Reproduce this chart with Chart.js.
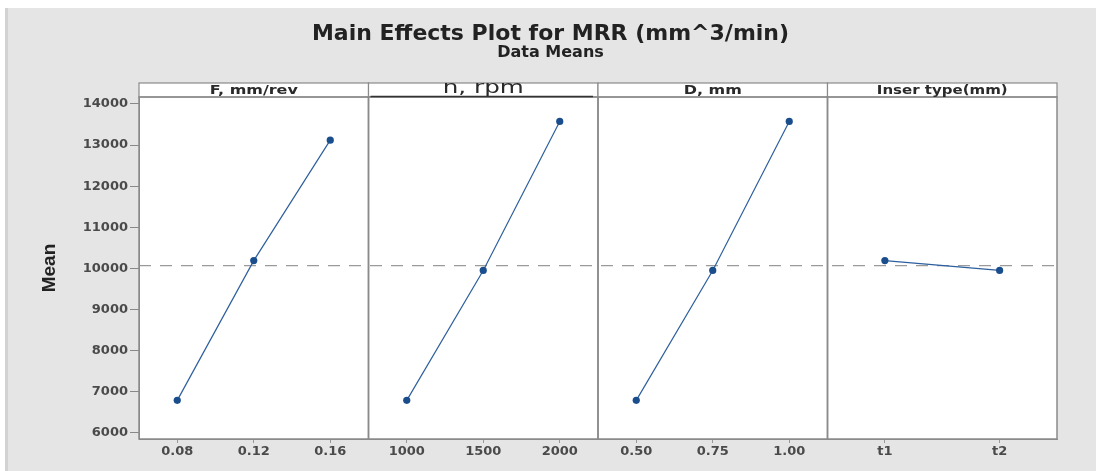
<!DOCTYPE html>
<html>
<head>
<meta charset="utf-8">
<script src="https://cdn.jsdelivr.net/npm/chart.js@4.4.1/dist/chart.umd.min.js"></script>
<style>
html,body{margin:0;padding:0;background:#fff;}
#wrap{width:1096px;height:471px;position:relative;}
</style>
</head>
<body>
<div id="wrap"><canvas id="c"></canvas></div>
<script>
// ---- data ----
const factorNames = ['F, mm/rev', 'n, rpm', 'D, mm', 'Inser type(mm)'];
const levelsF = ['0.08', '0.12', '0.16'];
const levelsN = ['1000', '1500', '2000'];
const levelsD = ['0.50', '0.75', '1.00'];
const levelsT = ['t1', 't2'];
const meansF = [6790, 10190, 13120];
const meansN = [6790, 9950, 13575];
const meansD = [6790, 9950, 13575];
const meansT = [10190, 9950];
const grandMean = 10070;
const yTickValues = [6000, 7000, 8000, 9000, 10000, 11000, 12000, 13000, 14000];

const panelLevels = [levelsF, levelsN, levelsD, levelsT];
const panelMeans = [meansF, meansN, meansD, meansT];
const headerFonts = ['bold 12px "DejaVu Sans"', '17px "DejaVu Sans"', 'bold 12px "DejaVu Sans"', 'bold 12px "DejaVu Sans"'];
const headerStretch = [1.33, 1.45, 1.33, 1.25];

Chart.defaults.font.family = '"DejaVu Sans", sans-serif';
Chart.defaults.color = '#333';

const LINE = '#2d5f9e';
const DOT = '#1a4d8c';

const datasets = panelMeans.map((m, i) => ({
  label: factorNames[i],
  data: m,
  xAxisID: 'x' + i,
  yAxisID: 'y',
  borderColor: LINE,
  borderWidth: 1.2,
  pointRadius: 3.6,
  pointBackgroundColor: DOT,
  pointBorderColor: DOT,
  pointBorderWidth: 0,
  tension: 0,
  clip: false
}));

const xScales = {};
panelLevels.forEach((lv, i) => {
  xScales['x' + i] = {
    type: 'category',
    position: 'bottom',
    stack: 'panels',
    stackWeight: 1,
    labels: lv,
    offset: true,
    grid: { display: true, offset: false, drawOnChartArea: false, drawTicks: true, tickLength: 4, tickColor: '#999', color: '#999' },
    border: { display: true, color: '#8a8a8a', width: 1 },
    ticks: { font: { size: 13, weight: 'bold' }, color: '#4a4a4a', padding: 1, maxRotation: 0, autoSkip: false },
    afterFit: s => { s.height = 32; }
  };
});

const framePlugin = {
  id: 'frame',
  beforeDraw(chart) {
    const ctx = chart.ctx, a = chart.chartArea;
    ctx.save();
    ctx.fillStyle = '#ffffff';
    ctx.fillRect(0, 0, chart.width, chart.height);
    ctx.fillStyle = '#e5e5e5';
    ctx.fillRect(5, 8, chart.width - 5, chart.height - 8);
    ctx.fillStyle = '#d2d2d2';
    ctx.fillRect(5, 8, 3, chart.height - 8);
    ctx.fillStyle = '#ffffff';
    ctx.fillRect(a.left, a.top, a.right - a.left, a.bottom - a.top);
    ctx.restore();
  },
  beforeDatasetsDraw(chart) {
    const ctx = chart.ctx, a = chart.chartArea;
    const y = chart.scales.y.getPixelForValue(grandMean);
    ctx.save();
    ctx.strokeStyle = '#9a9a9a';
    ctx.lineWidth = 1.2;
    ctx.setLineDash([12, 9]);
    ctx.beginPath();
    ctx.moveTo(a.left, y);
    ctx.lineTo(a.right, y);
    ctx.stroke();
    ctx.restore();
  },
  afterDraw(chart) {
    const ctx = chart.ctx, a = chart.chartArea;
    const hTop = a.top - 14;
    ctx.save();
    panelLevels.forEach((lv, i) => {
      const s = chart.scales['x' + i];
      // header strip
      ctx.fillStyle = '#ffffff';
      ctx.fillRect(s.left, hTop, s.right - s.left, a.top - hTop);
      ctx.strokeStyle = '#8a8a8a';
      ctx.lineWidth = 1.2;
      ctx.strokeRect(s.left, hTop, s.right - s.left, a.top - hTop);
      // panel frame
      ctx.lineWidth = 1.5;
      ctx.strokeRect(s.left, a.top, s.right - s.left, a.bottom - a.top);
      // header text (horizontally stretched like the reference)
      const cx = (s.left + s.right) / 2;
      const cy = (hTop + a.top) / 2 + (i === 1 ? -1.5 : 0.5);
      ctx.save();
      ctx.translate(cx, cy);
      ctx.scale(headerStretch[i], 1);
      ctx.fillStyle = '#2a2a2a';
      ctx.font = headerFonts[i];
      ctx.textAlign = 'center';
      ctx.textBaseline = 'middle';
      ctx.fillText(factorNames[i], 0, 0);
      ctx.restore();
      if (i === 1) {
        ctx.strokeStyle = '#333';
        ctx.lineWidth = 1.6;
        ctx.beginPath();
        ctx.moveTo(s.left + 2, a.top - 0.5);
        ctx.lineTo(s.right - 5, a.top - 0.5);
        ctx.stroke();
      }
    });
    ctx.restore();
  }
};

new Chart(document.getElementById('c'), {
  type: 'line',
  data: { datasets },
  options: {
    responsive: true,
    maintainAspectRatio: false,
    animation: false,
    events: [],
    layout: { padding: { left: 5, right: 0, top: 0, bottom: 0 } },
    plugins: {
      legend: { display: false },
      tooltip: { enabled: false },
      title: {
        display: true,
        text: 'Main Effects Plot for MRR (mm^3/min)',
        color: '#222',
        font: { size: 22, weight: 'bold', lineHeight: 1.0 },
        padding: { top: 23, bottom: 0 }
      },
      subtitle: {
        display: true,
        text: 'Data Means',
        color: '#222',
        font: { size: 16, weight: 'bold', lineHeight: 1.0 },
        padding: { top: 0, bottom: 36 }
      }
    },
    scales: Object.assign({}, xScales, {
      y: {
        type: 'linear',
        position: 'left',
        min: 5850,
        max: 14170,
        afterBuildTicks: s => { s.ticks = yTickValues.map(v => ({ value: v })); },
        grid: { drawOnChartArea: false, drawTicks: true, tickLength: 9, tickColor: '#888' },
        border: { display: true, color: '#8a8a8a' },
        ticks: { font: { size: 13, weight: 'bold' }, color: '#4a4a4a', padding: 2, callback: v => String(v) },
        title: {
          display: true,
          text: 'Mean',
          color: '#222',
          font: { family: '"Liberation Sans Narrow", "Liberation Sans", sans-serif', size: 19, weight: 'bold' },
          padding: { top: 33, bottom: 0 }
        },
        afterFit: s => { s.width = 134; }
      },
      yR: {
        type: 'linear',
        position: 'right',
        display: true,
        grid: { display: false, drawTicks: false },
        border: { display: false },
        ticks: { display: false },
        afterFit: s => { s.width = 39; }
      }
    })
  },
  plugins: [framePlugin]
});
</script>
</body>
</html>
